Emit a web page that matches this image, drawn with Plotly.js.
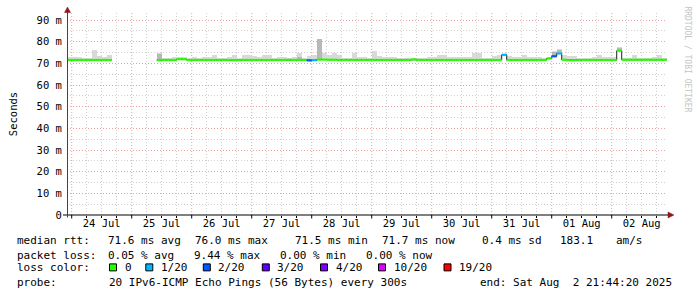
<!DOCTYPE html>
<html><head><meta charset="utf-8">
<script src="https://cdn.plot.ly/plotly-3.0.1.min.js"></script>
<style>html,body{margin:0;padding:0;background:#fff;overflow:hidden}</style>
</head><body><div id="chart" style="width:697px;height:297px"></div>
<script>
// ---------------- data ----------------
const sampleStart = Date.UTC(2025, 6, 23, 22, 0, 0);
const sampleHours = 2;
const medianMs = [
71.6,71.6,71.6,71.6,71.6,71.6,71.6,71.6,71.6,null,
null,null,null,null,null,null,null,null,71.5,71.6,
71.6,71.6,72.0,71.9,71.6,71.6,71.6,71.6,71.6,71.6,
71.6,71.6,71.6,71.5,71.5,71.6,71.6,71.6,71.6,71.6,
71.6,71.6,71.6,71.6,71.7,71.6,71.6,71.6,71.4,71.5,
71.8,71.8,71.7,71.7,71.6,71.6,71.6,71.6,71.6,71.6,
71.6,71.6,71.6,71.6,71.6,71.6,71.6,71.6,71.6,71.9,
71.6,71.6,71.6,71.6,71.6,71.6,71.6,71.6,71.6,71.6,
71.6,71.6,71.6,71.6,71.6,71.6,71.6,74.0,71.6,71.6,
71.6,71.6,71.6,71.6,71.6,71.6,72.3,73.3,74.6,71.7,
71.5,71.5,71.5,71.6,71.6,71.6,71.6,71.6,71.6,71.6,
75.9,71.7,71.7,71.7,71.7,71.7,71.7,71.7,71.7,71.7];
const smokeTopMs = [
73.2,72.9,73.2,72.6,72.7,76.3,73.4,73.2,73.8,null,
null,null,null,null,null,null,null,null,75.0,72.6,
72.6,73.2,73.2,72.9,72.6,72.9,72.7,72.8,72.9,73.9,
72.6,72.6,73.2,73.9,72.7,73.8,74.1,73.3,72.8,73.8,
74.1,72.7,73.0,72.8,72.7,72.8,74.9,72.7,73.6,74.1,
81.3,74.6,74.1,74.6,74.1,72.6,72.6,75.0,73.2,73.2,
72.7,75.8,73.6,73.2,72.9,72.9,72.6,72.6,72.6,72.7,
72.6,72.6,72.8,73.2,73.8,73.8,73.2,73.2,72.9,72.9,
73.2,74.6,74.6,72.6,72.6,73.6,73.8,74.4,73.5,73.2,
73.2,74.1,72.9,72.9,72.8,72.6,73.2,75.8,76.5,74.0,
73.5,73.5,72.7,72.7,72.7,72.8,73.8,72.8,72.8,72.9,
77.4,72.7,72.7,73.8,72.7,72.7,72.6,72.8,73.8,72.7];
const smokeDarkMs = [
null,null,null,null,null,null,null,null,null,null,
null,null,null,null,null,null,null,null,74.5,null,
null,null,null,null,null,null,null,null,null,null,
null,null,null,null,null,null,null,null,null,null,
null,null,null,null,null,null,73.2,null,null,null,
81.3,null,null,null,null,null,null,null,null,null,
null,null,null,null,null,null,null,null,null,null,
null,null,null,null,null,null,null,null,null,null,
null,null,null,null,null,null,null,null,null,null,
null,null,null,null,null,null,null,75.4,76.2,null,
null,null,null,null,null,null,null,null,null,null,
77.0,null,null,null,null,null,null,null,null,null];
const lossPings = [
0,0,0,0,0,0,0,0,0,null,
null,null,null,null,null,null,null,null,0,0,
0,0,0,0,0,0,0,0,0,0,
0,0,0,0,0,0,0,0,0,0,
0,0,0,0,0,0,0,0,2,1,
0,0,0,0,0,0,0,0,0,0,
0,0,0,0,0,0,0,0,0,0,
0,0,0,0,0,0,0,0,0,0,
0,0,0,0,0,0,0,1,0,0,
0,0,0,0,0,0,0,2,1,0,
0,0,0,0,0,0,0,0,0,0,
0,0,0,0,0,0,0,0,0,0];

const dayDates = ['2025-07-24','2025-07-25','2025-07-26','2025-07-27','2025-07-28','2025-07-29','2025-07-30','2025-07-31','2025-08-01','2025-08-02'];
const dayLabels = ['24 Jul','25 Jul','26 Jul','27 Jul','28 Jul','29 Jul','30 Jul','31 Jul','01 Aug','02 Aug'];
const yTickVals = [0,10,20,30,40,50,60,70,80,90];
const yTickText = ['0','10 m','20 m','30 m','40 m','50 m','60 m','70 m','80 m','90 m'];

const lossThresholds = [0,1,2,3,4,10,19];
const lossLabels = ['0','1/20','2/20','3/20','4/20','10/20','19/20'];
const lossColors = ['#26ff00','#00b8ff','#0059ff','#5e00ff','#7e00ff','#dd00ff','#ff0000'];

const rttTitle = 'median rtt:';
const rttStats = ['71.6 ms avg','76.0 ms max','71.5 ms min','71.7 ms now','0.4 ms sd','183.1','am/s'];
const lossTitle = 'packet loss:';
const lossStats = ['0.05 % avg','9.44 % max','0.00 % min','0.00 % now'];
const colorTitle = 'loss color:';
const probeTitle = 'probe:';
const probeText = '20 IPv6-ICMP Echo Pings (56 Bytes) every 300s';
const endText = 'end: Sat Aug\u00a0 2 21:44:20 2025';
const watermark = 'RRDTOOL / TOBI OETIKER';

// ---------------- layout helpers ----------------
const W = 697, H = 297, L = 67, R = 30, T = 13, B = 81.5;
const PW = W - L - R, PH = H - T - B;
const px = x => (x - L) / PW;
const py = y => (T + PH - y) / PH;
const FONT = 'DejaVu Sans Mono';

const stepMs = sampleHours * 3600e3;
const tStart = medianMs.map((_, i) => sampleStart + i * stepMs);
const tMid = tStart.map(t => t + stepMs / 2);

function lossBin(l) { let b = 0; lossThresholds.forEach((th, i) => { if (l >= th) b = i; }); return b; }

const traces = [];
traces.push({type:'bar', x:tMid, base:medianMs,
  y:smokeTopMs.map((v,i)=> (v==null||medianMs[i]==null)?null:v-medianMs[i]),
  width:tMid.map(()=>stepMs), marker:{color:'#d9d9d9', line:{width:0}}, hoverinfo:'skip'});
traces.push({type:'bar', x:tMid, base:medianMs,
  y:smokeDarkMs.map((v,i)=> (v==null||medianMs[i]==null)?null:v-medianMs[i]),
  width:tMid.map(()=>stepMs), marker:{color:'#b8b8b8', line:{width:0}}, hoverinfo:'skip'});
{
  const xs = [], ys = [];
  medianMs.forEach((v, i) => {
    if (v == null) { xs.push(null); ys.push(null); return; }
    xs.push(tStart[i], tStart[i] + stepMs); ys.push(v, v);
  });
  traces.push({type:'scatter', mode:'lines', x:xs, y:ys, line:{color:'#202020', width:1}, connectgaps:false, hoverinfo:'skip'});
}
lossColors.forEach((c, b) => {
  const xs = [], ys = [];
  medianMs.forEach((v, i) => {
    if (v == null || lossPings[i] == null || lossBin(lossPings[i]) !== b) return;
    xs.push(tStart[i], tStart[i] + stepMs, null); ys.push(v, v, null);
  });
  if (xs.length) traces.push({type:'scatter', mode:'lines', x:xs, y:ys, line:{color:c, width:2.2}, connectgaps:false, hoverinfo:'skip'});
});

const pink = '#eca0a0', grey = '#cfcfcf', dots = '1px,2px';
const shapes = [];
dayDates.forEach(d => {
  shapes.push({type:'line', xref:'x', yref:'paper', x0:d+' 00:00', x1:d+' 00:00', y0:0, y1:1, layer:'below', line:{color:pink, width:1, dash:dots}});
  shapes.push({type:'line', xref:'x', yref:'paper', x0:d+' 00:00', x1:d+' 00:00', y0:py(215.5), y1:py(219), line:{color:'#000', width:1}});
});
const minorVals = [];
dayDates.forEach(d => ['06:00','12:00','18:00'].forEach(h => minorVals.push(d + ' ' + h)));
shapes.push({type:'line', xref:'paper', yref:'paper', x0:px(63), x1:px(668), y0:py(215.5), y1:py(215.5), line:{color:'#000', width:1}});
shapes.push({type:'line', xref:'paper', yref:'paper', x0:px(67.5), x1:px(67.5), y0:py(218), y1:py(11), line:{color:'#444', width:1}});
const tri = pts => 'M' + pts.map(p => px(p[0]) + ',' + py(p[1])).join(' L') + ' Z';
shapes.push({type:'path', xref:'paper', yref:'paper', path:tri([[668,212.5],[674,215.5],[668,218.5]]), fillcolor:'#8b1a1a', line:{color:'#8b1a1a', width:0.5}});
shapes.push({type:'path', xref:'paper', yref:'paper', path:tri([[64.5,12.5],[67.5,7],[70.5,12.5]]), fillcolor:'#8b1a1a', line:{color:'#8b1a1a', width:0.5}});

const ann = [];
function txt(s, x, y) {
  ann.push({text:s, xref:'paper', yref:'paper', x:px(x), y:py(y), xanchor:'left', yanchor:'middle',
    showarrow:false, borderpad:0, font:{family:FONT, size:11, color:'#000'}});
}
const rowY = [241.5, 255.7, 268.5, 283];
const rttX = [107, 194, 294, 381, 481, 559, 615];
const lossX = [107, 193, 279, 365];
const swatchX = [109.5, 145.8, 203.3, 262.3, 320.5, 378.5, 444];
txt(rttTitle, 16, rowY[0]);
rttStats.forEach((s, i) => txt(s, rttX[i], rowY[0]));
txt(lossTitle, 16, rowY[1]);
lossStats.forEach((s, i) => txt(s, lossX[i], rowY[1]));
txt(colorTitle, 16, rowY[2]);
lossLabels.forEach((s, i) => {
  const x0 = swatchX[i];
  shapes.push({type:'rect', xref:'paper', yref:'paper', x0:px(x0), x1:px(x0+7), y0:py(271.5), y1:py(264.5), fillcolor:lossColors[i], line:{color:'#000', width:1}});
  txt(s, x0 + 14, rowY[2]);
});
txt(probeTitle, 16, rowY[3]);
txt(probeText, 107.5, rowY[3]);
txt(endText, 479, rowY[3]);
ann.push({text:watermark, xref:'paper', yref:'paper',
  x:px(687.5), y:py(59), xanchor:'center', yanchor:'middle', textangle:90, showarrow:false,
  font:{family:FONT, size:8, color:'#c4c4c4'}});

const layout = {
  width:W, height:H, margin:{l:L, r:R, t:T, b:B, pad:0},
  paper_bgcolor:'#fff', plot_bgcolor:'#fff', showlegend:false, hovermode:false,
  barmode:'overlay', bargap:0,
  xaxis:{type:'date', range:['2025-07-23 22:07','2025-08-02 22:07'], tickvals:dayDates.map(d=>d+' 12:00'), ticktext:dayLabels,
    showgrid:true, gridcolor:grey, griddash:dots, gridwidth:1, ticks:'', showline:false, zeroline:false,
    tickfont:{family:FONT, size:10.5, color:'#000'},
    minor:{tickvals:minorVals, showgrid:true, gridcolor:grey, griddash:dots, gridwidth:1, ticks:'outside', ticklen:2, tickcolor:'#000'}},
  yaxis:{range:[0, 93.3], tickvals:yTickVals, ticktext:yTickText, showgrid:true, gridcolor:pink, griddash:dots, gridwidth:1,
    zeroline:false, showline:false, ticks:'outside', ticklen:2, tickcolor:'rgba(0,0,0,0)',
    tickfont:{family:FONT, size:10.5, color:'#000'},
    title:{text:'Seconds', font:{family:FONT, size:10.5, color:'#000'}, standoff:16},
    minor:{dtick:5, tick0:0, showgrid:true, gridcolor:grey, griddash:dots, gridwidth:1}},
  shapes:shapes, annotations:ann
};
Plotly.newPlot('chart', traces, layout, {displayModeBar:false, staticPlot:true});
</script></body></html>
